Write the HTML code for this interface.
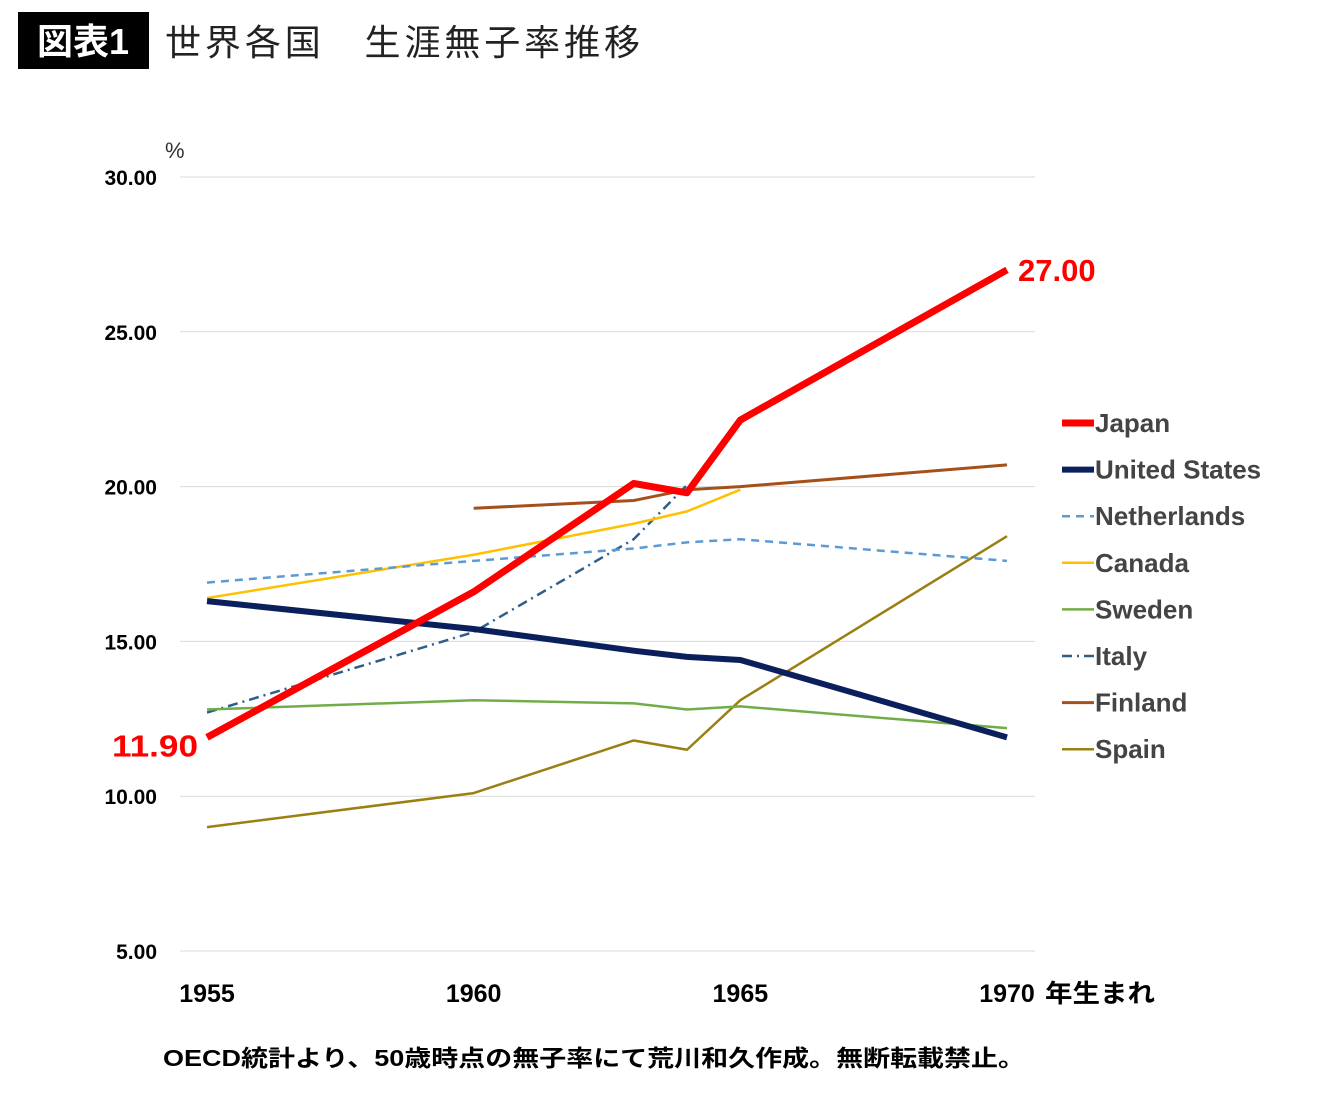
<!DOCTYPE html>
<html><head><meta charset="utf-8"><style>
body{margin:0;background:#fff;width:1340px;height:1093px;overflow:hidden;font-family:"Liberation Sans","Noto Sans CJK JP",sans-serif}
</style></head><body>
<svg width="1340" height="1093" xmlns="http://www.w3.org/2000/svg">
<rect x="18" y="12" width="131" height="57" fill="#000"/>
<text x="83" y="54" fill="#fff" font-size="36" font-weight="bold" text-anchor="middle" font-family="Liberation Sans,Noto Sans CJK JP,sans-serif">図表1</text>
<text x="165" y="55" font-size="36" fill="#222" textLength="475" lengthAdjust="spacing" font-family="Liberation Sans,Noto Sans CJK JP,sans-serif">世界各国　生涯無子率推移</text>
<text x="165" y="158" font-size="22" fill="#333" font-family="Liberation Sans,Noto Sans CJK JP,sans-serif">%</text>
<g id="grid"></g><g id="ylab"></g><g id="xlab"></g><g id="series"></g><g id="legend"></g>
<text x="1045" y="1002" font-size="25" font-weight="bold" textLength="110" lengthAdjust="spacingAndGlyphs" font-family="Liberation Sans,Noto Sans CJK JP,sans-serif">年生まれ</text>
<text x="163" y="1066" font-size="23" font-weight="bold" textLength="862" lengthAdjust="spacingAndGlyphs" font-family="Liberation Sans,Noto Sans CJK JP,sans-serif">OECD統計より、50歳時点の無子率にて荒川和久作成。無断転載禁止。</text>
</svg>
<script>
const years=[1955,1960,1963,1964,1965,1970];
const yTicks=[5,10,15,20,25,30];
const xTicks=[1955,1960,1965,1970];
const names=["Japan","United States","Netherlands","Canada","Sweden","Italy","Finland","Spain"];
const japan=[11.9,16.6,20.1,19.8,22.15,27.0];
const us=[16.3,15.4,14.7,14.5,14.4,11.9];
const netherlands=[16.9,17.6,18.0,18.2,18.3,17.6];
const canada=[16.4,17.8,18.8,19.2,19.9,null];
const sweden=[12.8,13.1,13.0,12.8,12.9,12.2];
const italy=[12.7,15.3,18.3,20.05,null,null];
const finland=[null,19.3,19.55,19.9,20.0,20.7];
const spain=[9.0,10.1,11.8,11.5,13.1,18.4];
const styles=[["#f00",7,""],["#0b1f5c",6,""],["#5b9bd5",2.5,"8 6"],["#ffc000",2.5,""],["#70ad47",2.5,""],["#2e5f8a",2.5,"10 5 2 5"],["#a5501b",3,""],["#9c7f12",2.5,""]];
const data=[japan,us,netherlands,canada,sweden,italy,finland,spain];
const X=y=>207+(y-1955)*(1007-207)/15;
const Y=v=>951-(v-5)*(951-177)/25;
const NS="http://www.w3.org/2000/svg";
function mk(t,a,p){const e=document.createElementNS(NS,t);for(const k in a)e.setAttribute(k,a[k]);p.appendChild(e);return e;}
const F="Liberation Sans,Noto Sans CJK JP,sans-serif";
yTicks.forEach(v=>{const l=mk("line",{x1:180,x2:1035,y1:Y(v),y2:Y(v),stroke:"#d9d9d9","stroke-width":1},document.getElementById("grid"));


const t=mk("text",{x:157,y:Y(v)+8,"text-anchor":"end","font-size":21,"font-weight":"bold","font-family":F},document.getElementById("ylab"));t.textContent=v.toFixed(2);

});
xTicks.forEach(v=>{const t=mk("text",{x:X(v),y:1002,"text-anchor":"middle","font-size":25,"font-weight":"bold","font-family":F},document.getElementById("xlab"));t.textContent=v;

});
const order=[7,6,5,4,3,2,1,0];
order.forEach(i=>{const pts=[];data[i].forEach((v,j)=>{if(v!=null)pts.push(X(years[j])+","+Y(v));});
const s=styles[i];const p=mk("polyline",{points:pts.join(" "),fill:"none",stroke:s[0],"stroke-width":s[1],"stroke-dasharray":s[2],"stroke-linejoin":"round"},document.getElementById("series"));

});
const lg=document.getElementById("legend");
names.forEach((n,i)=>{const y=423+i*46.6;const s=styles[i];
const l=mk("line",{x1:1062,x2:1094,y1:y,y2:y,stroke:s[0],"stroke-width":s[1],"stroke-dasharray":s[2]},lg);


const t=mk("text",{x:1095,y:y+9,"font-size":26,"font-weight":"bold",fill:"#444","font-family":F},lg);t.textContent=n;

});
const a=mk("text",{x:1018,y:Y(japan[5])+11,"font-size":31,"font-weight":"bold",fill:"#f00","font-family":F},lg);a.textContent=japan[5].toFixed(2);


const b=mk("text",{x:112,y:Y(japan[0])+19,"font-size":31,"font-weight":"bold",fill:"#f00","font-family":F,textLength:86,lengthAdjust:"spacingAndGlyphs"},lg);b.textContent=japan[0].toFixed(2);


</script>
</body></html>
